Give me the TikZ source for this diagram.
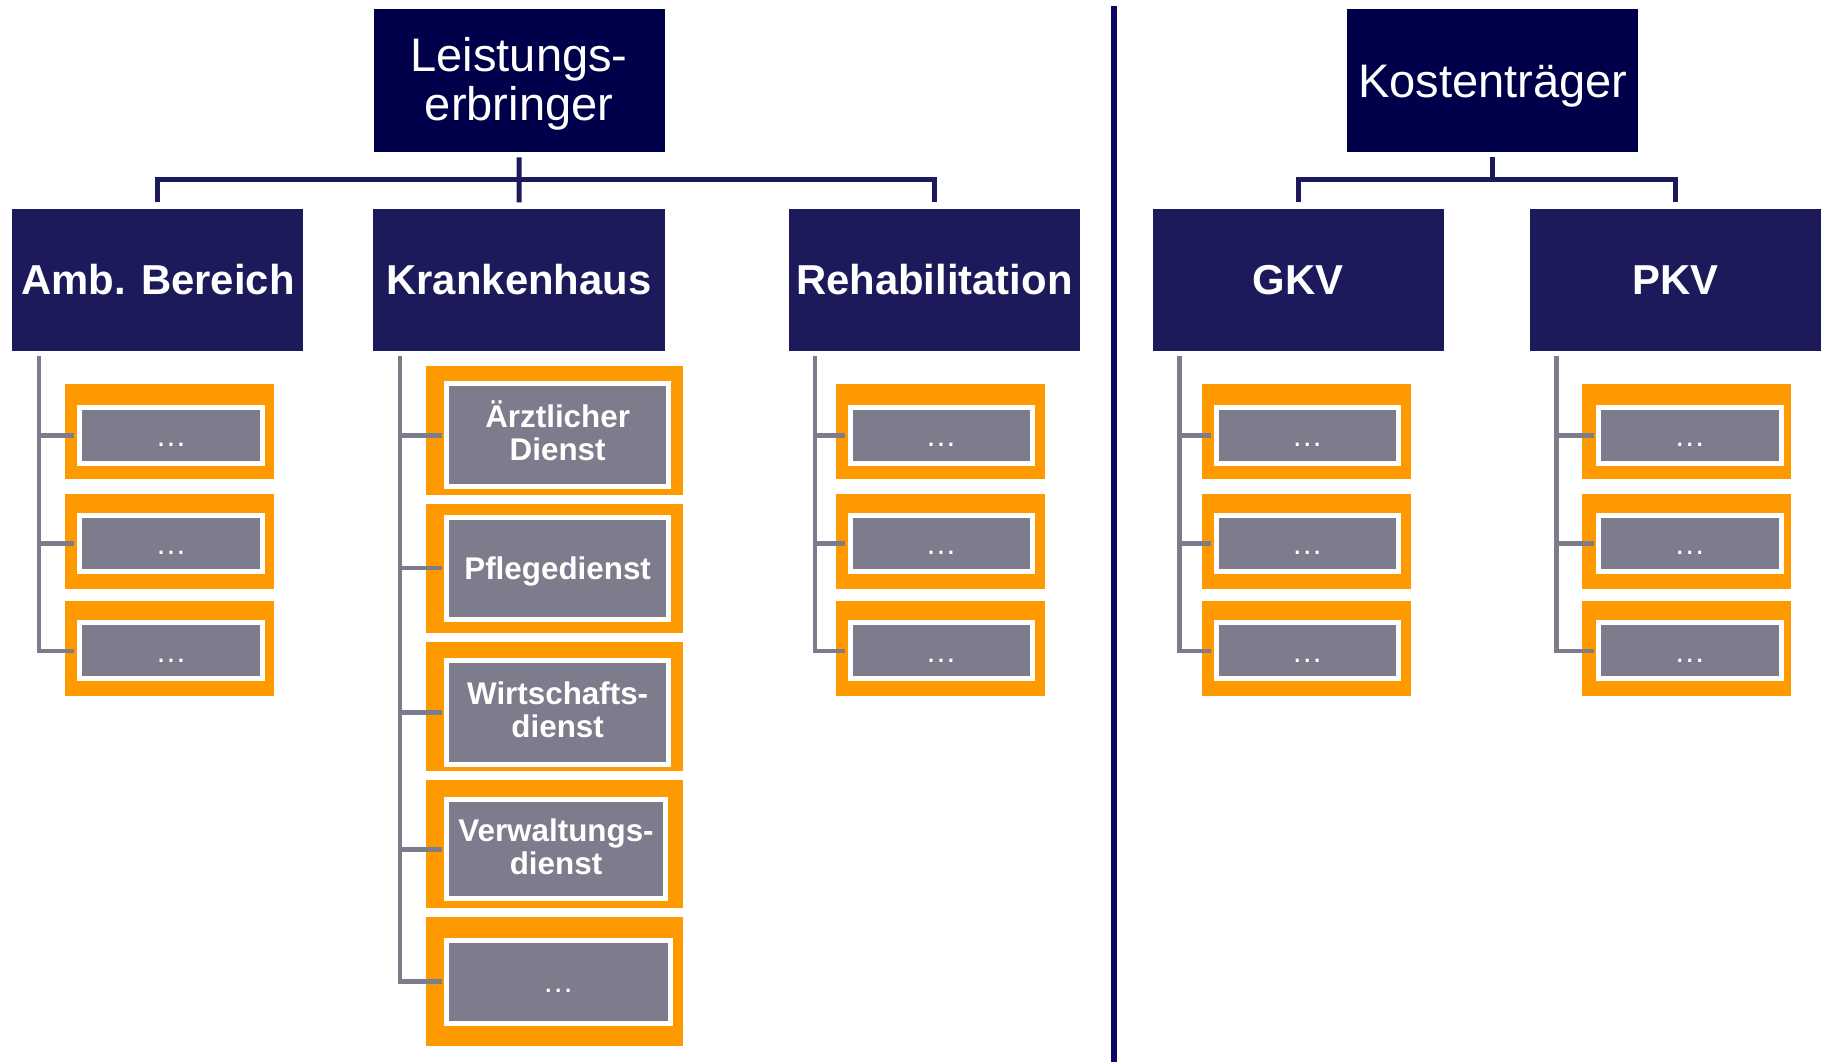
\documentclass[tikz,border=0pt]{standalone}
\usepackage{fontspec}
\setmainfont{Liberation Sans}
\definecolor{topnavy}{RGB}{0,0,74}
\definecolor{midnavy}{RGB}{28,26,90}
\definecolor{orng}{RGB}{255,153,0}
\definecolor{slate}{RGB}{124,124,140}
\definecolor{divnavy}{RGB}{10,8,100}
\newcommand{\dotsbox}{{\mdseries …}}
\begin{document}
\begin{tikzpicture}[x=1pt,y=-1pt,
  topbox/.style={fill=topnavy,text=white,anchor=north west,inner sep=0pt,align=center,
    minimum width=250.5pt,minimum height=123pt,font=\fontsize{40.5}{42}\selectfont},
  midbox/.style={fill=midnavy,text=white,anchor=north west,inner sep=0pt,
    minimum width=250.5pt,minimum height=122.5pt,font=\bfseries\fontsize{36}{40}\selectfont,
    text height=25.8pt,text depth=0pt},
  obox/.style={fill=orng,anchor=north west,inner sep=0pt},
  ibox/.style={fill=slate,draw=white,line width=4.3pt,anchor=north west,inner sep=0pt,
    text=white,align=center,font=\bfseries\fontsize{27}{28.5}\selectfont},
  navyline/.style={draw=midnavy,line width=4.3pt},
  grayline/.style={draw=slate,line width=4pt},
  divline/.style={draw=divnavy,line width=5pt}]

\fill[white] (0,0) rectangle (1568,914);
\useasboundingbox (0,0) rectangle (1568,914);

% top level
\node[topbox,text height=71pt,text depth=2pt] (L) at (321.3,7.3) {Leistungs-\\erbringer};
\node[topbox,text height=29pt,text depth=0pt] (K) at (1159.2,7.3) {Kostenträger};

% second level
\node[midbox] (A)  at (10.4,179.3)   {Amb. Bereich};
\node[midbox] (KH) at (321.2,179.3)  {Krankenhaus};
\node[midbox] (R)  at (678.6,179.3)  {Rehabilitation};
\node[midbox] (G)  at (991.8,179.3)  {GKV};
\node[midbox] (P)  at (1316.5,179.3) {PKV};

% navy connectors
\draw[navyline] ([yshift=-4.8pt]L.south) -- ([yshift=5.2pt]KH.north);
\draw[navyline] ([yshift=5.2pt]A.north) -- ++(0,-19.4) -| ([yshift=5.2pt]R.north);
\draw[navyline] ([yshift=-4.8pt]K.south) -- ++(0,20);
\draw[navyline] ([yshift=5.2pt]G.north) -- ++(0,-19.4) -| ([yshift=5.2pt]P.north);

% divider
\coordinate (d1) at (959,5);
\coordinate (d2) at (959,914);
\draw[divline] (d1) -- (d2);

% small columns
\foreach \col/\vx/\ox/\ix/\iw in {A/33.5/56/64/157.7, R/701.4/719.5/727.2/156.9,
    G/1015/1034.5/1042.2/157.1, P/1339.5/1361.6/1371.5/157}{
  \foreach \r/\oy/\iy in {1/330.5/346.3, 2/425.1/439.2, 3/517.2/531.6}{
    \node[obox,minimum width=179.5pt,minimum height=81.5pt] (\col o\r) at (\ox,\oy) {};
    \node[ibox,text height=19.3pt,text depth=0pt,minimum width=\iw pt,minimum height=48.4pt] (\col i\r) at (\ix+2.15,\iy+2.15) {\dotsbox};
  }
  \coordinate (\col T) at (\vx,306.4);
  \draw[grayline] (\col T) |- ([xshift=-2.15pt]\col i3.west);
  \foreach \r in {1,2}{
    \draw[grayline] (\col T |- \col i\r.west) -- ([xshift=-2.15pt]\col i\r.west);
  }
}

% Krankenhaus column
\foreach \r/\oy/\oh/\iy/\ih/\iw/\th/\td/\txt in {
  1/315/111/326/88.5/191/47.8/4/{Ärztlicher\\Dienst},
  2/433.7/110.8/440.8/87.7/191/19.3/0/{Pflegedienst},
  3/552.5/110.7/564.5/88.7/191/47.8/4/{Wirtschafts-\\dienst},
  4/670.7/110.1/683.9/85.2/188.2/47.8/4/{Verwaltungs-\\dienst},
  5/788.9/111.3/804.7/71.7/192.2/19.3/0/{\dotsbox}}{
  \node[obox,minimum width=220.9pt,minimum height=\oh pt] (Ko\r) at (366.6,\oy) {};
  \node[ibox,text height=\th pt,text depth=\td pt,minimum width=\iw pt,minimum height=\ih pt] (Ki\r) at (382.25,\iy+2.15) {\txt};
}
\coordinate (KT) at (344.2,306.4);
\draw[grayline] (KT) |- ([xshift=-2.15pt]Ki5.west);
\foreach \r in {1,...,4}{
  \draw[grayline] (KT |- Ki\r.west) -- ([xshift=-2.15pt]Ki\r.west);
}
\end{tikzpicture}
\end{document}
